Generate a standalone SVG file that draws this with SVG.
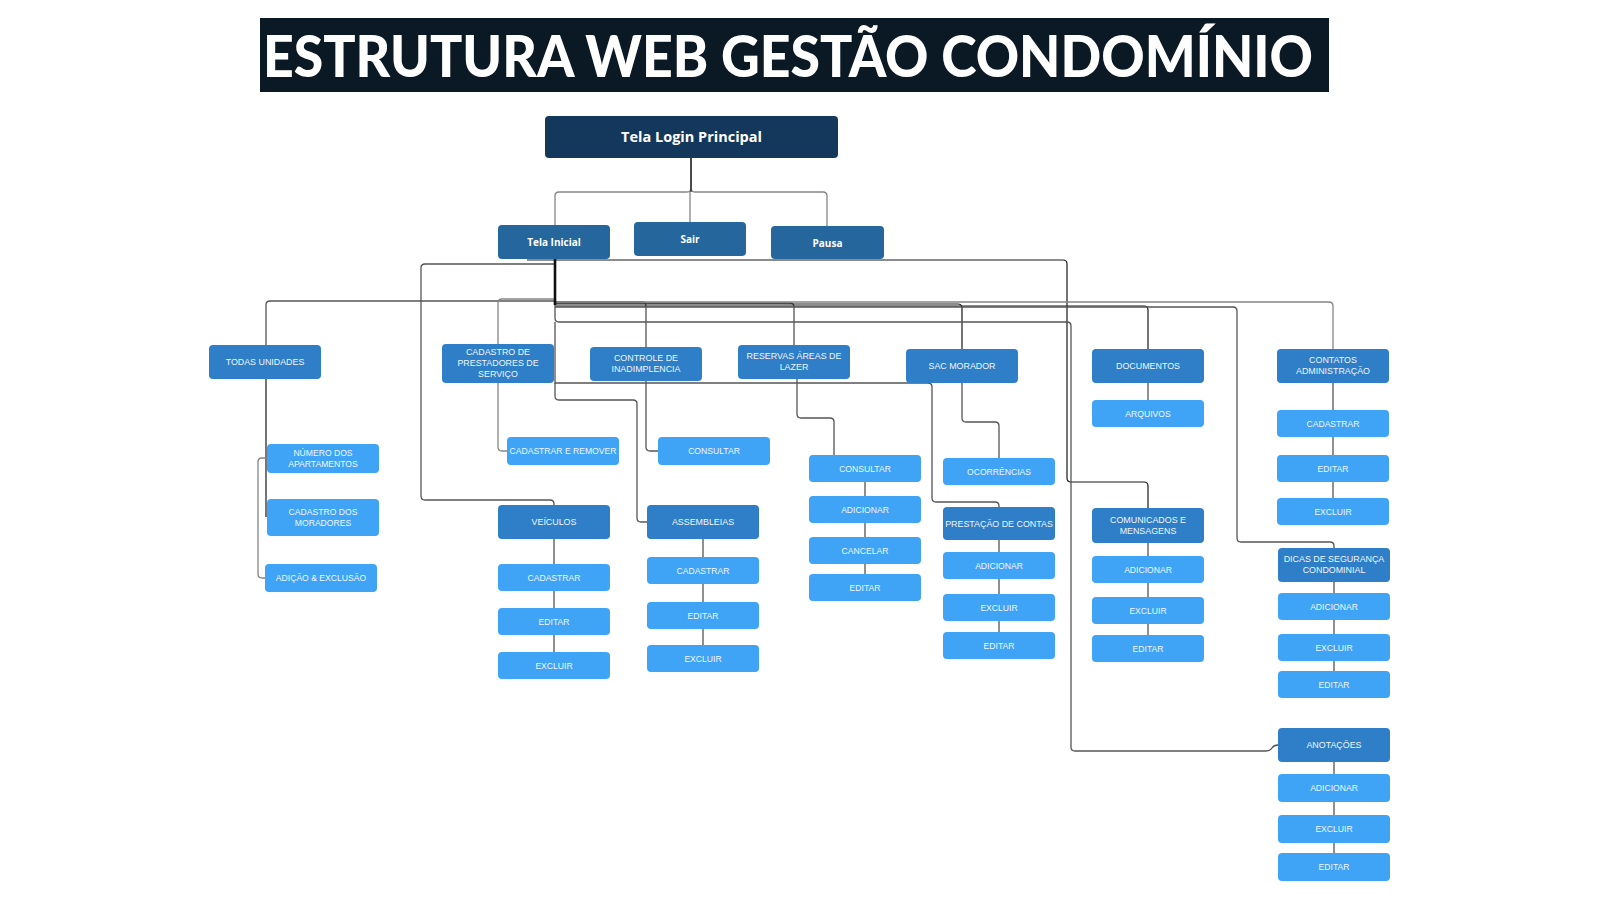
<svg xmlns="http://www.w3.org/2000/svg" width="1600" height="900" viewBox="0 0 1600 900">
<style>
.c{fill:none;stroke:#555;stroke-width:1.3}
.cg{fill:none;stroke:#858585;stroke-width:1.3}
.ck{fill:none;stroke:#1a1a1a;stroke-width:1.2}
.n1{fill:#14385c}
.n2{fill:#25669c}
.n3{fill:#2e7fc7}
.n4{fill:#40a4f6}
.t1{font-family:"Open Sans","Noto Sans","Liberation Sans",sans-serif;font-weight:700;font-size:14.5px;fill:#fff;text-anchor:middle}
.t2{font-family:"Open Sans","Noto Sans","Liberation Sans",sans-serif;font-weight:700;font-size:10px;fill:#fff;text-anchor:middle}
.t3{font-family:"Liberation Sans",Arial,sans-serif;font-size:8.9px;fill:#eef6fd;text-anchor:middle}
.t4{font-family:"Liberation Sans",Arial,sans-serif;font-size:8.6px;fill:#eef7ff;text-anchor:middle}
</style>
<rect width="1600" height="900" fill="#fff"/>
<g id="title">
<rect x="260" y="18" width="1069" height="74" fill="#0a1924"/>
<text x="263" y="77" textLength="1050" lengthAdjust="spacingAndGlyphs" font-family="Lato,Inter,'Liberation Sans',sans-serif" font-weight="900" font-size="57" fill="#fff">ESTRUTURA WEB GESTÃO CONDOMÍNIO</text>
</g>
<g id="connectors">
<path class="cg" d="M691 158V188Q691 192 687 192H559Q555 192 555 196V225"/>
<path class="cg" d="M691 158V188Q691 192 695 192H823Q827 192 827 196V226"/>
<path class="cg" d="M690 192V222"/>
<path class="ck" d="M691 158V192"/>
<path class="ck" d="M527 260H1063Q1067 260 1067 264V478Q1067 482 1071 482H1144Q1148 482 1148 486V508"/>
<path class="c" d="M555 264H425Q421 264 421 268V496Q421 500 425 500H550Q554 500 554 504V505"/>
<path class="c" d="M555 259V301H270Q266 301 266 305V345"/>
<path class="cg" d="M555 299H502Q498 299 498 303V344"/>
<path class="c" d="M555 302H642Q646 302 646 306V347"/>
<path class="c" d="M555 303H790Q794 303 794 307V345"/>
<path class="ck" d="M555 304H958Q962 304 962 308V349"/>
<path class="cg" d="M555 302H1329Q1333 302 1333 306V349"/>
<path class="ck" d="M555 306H1144Q1148 306 1148 310V349"/>
<path class="c" d="M555 307H1233Q1237 307 1237 311V538Q1237 542 1241 542H1330Q1334 542 1334 546V548"/>
<path class="c" d="M555 259V318Q555 322 559 322H1067Q1071 322 1071 326V747Q1071 751 1075 751H1266Q1270 751 1272 748Q1274 745 1278 745"/>
<path class="c" d="M555 322V383H928Q932 383 932 387V498Q932 502 936 502H995Q999 502 999 506V507"/>
<path class="c" d="M555 383V396Q555 400 559 400H633Q637 400 637 404V518Q637 522 641 522H647"/>
<path fill="none" stroke="#111" stroke-width="2.6" d="M555 259V305"/>
<path class="cg" d="M498 383V447Q498 451 502 451H507"/>
<path class="c" d="M646 381V447Q646 451 650 451H658"/>
<path class="c" d="M797 379V414Q797 418 801 418H830Q834 418 834 422V455"/>
<path class="c" d="M962 383V418Q962 422 966 422H995Q999 422 999 426V458"/>
<path class="ck" d="M266 379V517"/>
<path class="cg" d="M266 458H262Q258 458 258 462V574Q258 578 262 578H265"/>
<path class="c" d="M865 482V496M865 523V537M865 564V574"/>
<path class="c" d="M999 540V552M999 579V594M999 621V632"/>
<path class="c" d="M1148 383V400"/>
<path class="c" d="M1148 543V556M1148 583V597M1148 624V635"/>
<path class="c" d="M1333 383V410M1333 437V455M1333 482V498"/>
<path class="c" d="M1334 582V593M1334 620V634M1334 661V671"/>
<path class="c" d="M1334 762V774M1334 802V815M1334 843V853"/>
<path class="c" d="M554 539V564M554 591V608M554 635V652"/>
<path class="c" d="M703 539V557M703 584V602M703 629V645"/>
</g>
<g id="login"><rect class="n1" x="545" y="116" width="293" height="42" rx="4"/><text class="t1" x="691.5" y="142">Tela Login Principal</text></g>
<g id="tela-inicial"><rect class="n2" x="498" y="225" width="112" height="34" rx="4"/><text class="t2" x="554" y="246">Tela Inicial</text></g>
<g id="sair"><rect class="n2" x="634" y="222" width="112" height="34" rx="4"/><text class="t2" x="690" y="243">Sair</text></g>
<g id="pausa"><rect class="n2" x="771" y="226" width="113" height="33" rx="4"/><text class="t2" x="827.5" y="246.5">Pausa</text></g>

<g id="todas-unidades"><rect class="n3" x="209" y="345" width="112" height="34" rx="4"/><text class="t3" x="265" y="365.2">TODAS UNIDADES</text></g>
<g id="cadastro-prestadores"><rect class="n3" x="442" y="344" width="112" height="39" rx="4"/><text class="t3" x="498" y="355">CADASTRO DE</text><text class="t3" x="498" y="366.2">PRESTADORES DE</text><text class="t3" x="498" y="377.4">SERVIÇO</text></g>
<g id="controle"><rect class="n3" x="590" y="347" width="112" height="34" rx="4"/><text class="t3" x="646" y="361.3">CONTROLE DE</text><text class="t3" x="646" y="372.3">INADIMPLENCIA</text></g>
<g id="reservas"><rect class="n3" x="738" y="345" width="112" height="34" rx="4"/><text class="t3" x="794" y="359.3">RESERVAS ÁREAS DE</text><text class="t3" x="794" y="370.3">LAZER</text></g>
<g id="sac"><rect class="n3" x="906" y="349" width="112" height="34" rx="4"/><text class="t3" x="962" y="369.2">SAC MORADOR</text></g>
<g id="documentos"><rect class="n3" x="1092" y="349" width="112" height="34" rx="4"/><text class="t3" x="1148" y="369.2">DOCUMENTOS</text></g>
<g id="contatos"><rect class="n3" x="1277" y="349" width="112" height="34" rx="4"/><text class="t3" x="1333" y="363.3">CONTATOS</text><text class="t3" x="1333" y="374.3">ADMINISTRAÇÃO</text></g>
<g id="veiculos"><rect class="n3" x="498" y="505" width="112" height="34" rx="4"/><text class="t3" x="554" y="525.2">VEÍCULOS</text></g>
<g id="assembleias"><rect class="n3" x="647" y="505" width="112" height="34" rx="4"/><text class="t3" x="703" y="525.2">ASSEMBLEIAS</text></g>
<g id="prestacao"><rect class="n3" x="943" y="507" width="112" height="33" rx="4"/><text class="t3" x="999" y="526.7">PRESTAÇÃO DE CONTAS</text></g>
<g id="comunicados"><rect class="n3" x="1092" y="508" width="112" height="35" rx="4"/><text class="t3" x="1148" y="522.8">COMUNICADOS E</text><text class="t3" x="1148" y="533.8">MENSAGENS</text></g>
<g id="dicas"><rect class="n3" x="1278" y="548" width="112" height="34" rx="4"/><text class="t3" x="1334" y="562.3">DICAS DE SEGURANÇA</text><text class="t3" x="1334" y="573.3">CONDOMINIAL</text></g>
<g id="anotacoes"><rect class="n3" x="1278" y="728" width="112" height="34" rx="4"/><text class="t3" x="1334" y="748.2">ANOTAÇÕES</text></g>

<g id="numero-apartamentos"><rect class="n4" x="267" y="444" width="112" height="29" rx="4"/><text class="t4" x="323" y="455.5">NÚMERO DOS</text><text class="t4" x="323" y="466.5">APARTAMENTOS</text></g>
<g id="cadastro-moradores"><rect class="n4" x="267" y="499" width="112" height="37" rx="4"/><text class="t4" x="323" y="514.5">CADASTRO DOS</text><text class="t4" x="323" y="525.5">MORADORES</text></g>
<g id="adicao-exclusao"><rect class="n4" x="265" y="564" width="112" height="28" rx="4"/><text class="t4" x="321" y="581">ADIÇÃO &amp; EXCLUSÃO</text></g>
<g id="cadastrar-remover"><rect class="n4" x="507" y="437" width="112" height="28" rx="4"/><text class="t4" x="563" y="454">CADASTRAR E REMOVER</text></g>
<g id="consultar-inad"><rect class="n4" x="658" y="437" width="112" height="28" rx="4"/><text class="t4" x="714" y="454">CONSULTAR</text></g>

<g id="vei-cadastrar"><rect class="n4" x="498" y="564" width="112" height="27" rx="4"/><text class="t4" x="554" y="580.5">CADASTRAR</text></g>
<g id="vei-editar"><rect class="n4" x="498" y="608" width="112" height="27" rx="4"/><text class="t4" x="554" y="624.5">EDITAR</text></g>
<g id="vei-excluir"><rect class="n4" x="498" y="652" width="112" height="27" rx="4"/><text class="t4" x="554" y="668.5">EXCLUIR</text></g>

<g id="ass-cadastrar"><rect class="n4" x="647" y="557" width="112" height="27" rx="4"/><text class="t4" x="703" y="573.5">CADASTRAR</text></g>
<g id="ass-editar"><rect class="n4" x="647" y="602" width="112" height="27" rx="4"/><text class="t4" x="703" y="618.5">EDITAR</text></g>
<g id="ass-excluir"><rect class="n4" x="647" y="645" width="112" height="27" rx="4"/><text class="t4" x="703" y="661.5">EXCLUIR</text></g>

<g id="res-consultar"><rect class="n4" x="809" y="455" width="112" height="27" rx="4"/><text class="t4" x="865" y="471.5">CONSULTAR</text></g>
<g id="res-adicionar"><rect class="n4" x="809" y="496" width="112" height="27" rx="4"/><text class="t4" x="865" y="512.5">ADICIONAR</text></g>
<g id="res-cancelar"><rect class="n4" x="809" y="537" width="112" height="27" rx="4"/><text class="t4" x="865" y="553.5">CANCELAR</text></g>
<g id="res-editar"><rect class="n4" x="809" y="574" width="112" height="27" rx="4"/><text class="t4" x="865" y="590.5">EDITAR</text></g>

<g id="ocorrencias"><rect class="n4" x="943" y="458" width="112" height="27" rx="4"/><text class="t4" x="999" y="474.5">OCORRÊNCIAS</text></g>
<g id="prc-adicionar"><rect class="n4" x="943" y="552" width="112" height="27" rx="4"/><text class="t4" x="999" y="568.5">ADICIONAR</text></g>
<g id="prc-excluir"><rect class="n4" x="943" y="594" width="112" height="27" rx="4"/><text class="t4" x="999" y="610.5">EXCLUIR</text></g>
<g id="prc-editar"><rect class="n4" x="943" y="632" width="112" height="27" rx="4"/><text class="t4" x="999" y="648.5">EDITAR</text></g>

<g id="arquivos"><rect class="n4" x="1092" y="400" width="112" height="27" rx="4"/><text class="t4" x="1148" y="416.5">ARQUIVOS</text></g>
<g id="com-adicionar"><rect class="n4" x="1092" y="556" width="112" height="27" rx="4"/><text class="t4" x="1148" y="572.5">ADICIONAR</text></g>
<g id="com-excluir"><rect class="n4" x="1092" y="597" width="112" height="27" rx="4"/><text class="t4" x="1148" y="613.5">EXCLUIR</text></g>
<g id="com-editar"><rect class="n4" x="1092" y="635" width="112" height="27" rx="4"/><text class="t4" x="1148" y="651.5">EDITAR</text></g>

<g id="cont-cadastrar"><rect class="n4" x="1277" y="410" width="112" height="27" rx="4"/><text class="t4" x="1333" y="426.5">CADASTRAR</text></g>
<g id="cont-editar"><rect class="n4" x="1277" y="455" width="112" height="27" rx="4"/><text class="t4" x="1333" y="471.5">EDITAR</text></g>
<g id="cont-excluir"><rect class="n4" x="1277" y="498" width="112" height="27" rx="4"/><text class="t4" x="1333" y="514.5">EXCLUIR</text></g>

<g id="dic-adicionar"><rect class="n4" x="1278" y="593" width="112" height="27" rx="4"/><text class="t4" x="1334" y="609.5">ADICIONAR</text></g>
<g id="dic-excluir"><rect class="n4" x="1278" y="634" width="112" height="27" rx="4"/><text class="t4" x="1334" y="650.5">EXCLUIR</text></g>
<g id="dic-editar"><rect class="n4" x="1278" y="671" width="112" height="27" rx="4"/><text class="t4" x="1334" y="687.5">EDITAR</text></g>

<g id="ano-adicionar"><rect class="n4" x="1278" y="774" width="112" height="28" rx="4"/><text class="t4" x="1334" y="791">ADICIONAR</text></g>
<g id="ano-excluir"><rect class="n4" x="1278" y="815" width="112" height="28" rx="4"/><text class="t4" x="1334" y="832">EXCLUIR</text></g>
<g id="ano-editar"><rect class="n4" x="1278" y="853" width="112" height="28" rx="4"/><text class="t4" x="1334" y="870">EDITAR</text></g>
</svg>
